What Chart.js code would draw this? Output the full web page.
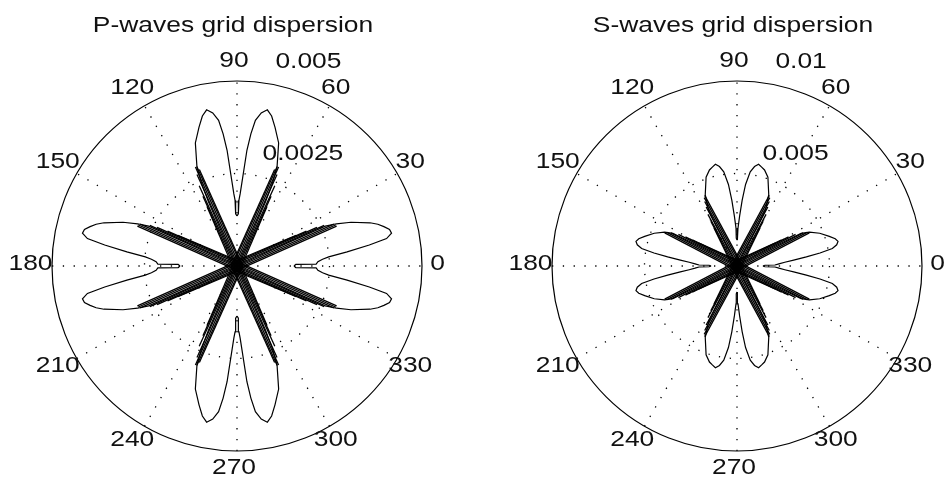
<!DOCTYPE html>
<html>
<head>
<meta charset="utf-8">
<script src="https://cdn.jsdelivr.net/npm/chart.js@4/dist/chart.umd.min.js"></script>
<style>
  body { margin: 0; background: #fff; }
  .panel { position: absolute; top: 0; width: 474px; height: 484px; }
</style>
</head>
<body>
<div class="panel" style="left:0"><canvas id="pChart"></canvas></div>
<div class="panel" style="left:474px"><canvas id="sChart"></canvas></div>
<script>
const titles = ['P-waves grid dispersion', 'S-waves grid dispersion'];
const angleTicks = [0, 30, 60, 90, 120, 150, 180, 210, 240, 270, 300, 330];

const pRingTicks = [0.0025, 0.005];
const pRingLabels = ['0.0025', '0.005'];
const sRingTicks = [0.005, 0.01];
const sRingLabels = ['0.005', '0.01'];

// outer dispersion curve, first quadrant (angle in deg, radius), mirrored to the other quadrants
const pCurveDeg = [0, 1.5, 1.4, 3, 4.5, 5.7, 7.3, 9, 10.4, 12, 13.5, 15, 16.5, 18, 21, 23, 24.3, 24.5, 24.6, 24.6,
                   65.5, 65.5, 66, 66.8, 68, 71.3, 74.7, 77, 79, 81, 82.8, 84, 85.1, 86.6, 87.5, 88.3, 88.5, 90];
const pCurveR = [0.00154, 0.00159, 0.00214, 0.00219, 0.00232, 0.00249, 0.0030, 0.00362, 0.00411, 0.00427, 0.00424, 0.00411, 0.00397, 0.00378, 0.0033, 0.00292, 0.00262, 0.00162, 0.00054, 0,
                 0, 0.00081, 0.00189, 0.00243, 0.00289, 0.00351, 0.00389, 0.00416, 0.0043, 0.00419, 0.00397, 0.00359, 0.00314, 0.00227, 0.00195, 0.00178, 0.00141, 0.00135];
// the other curves, which run in to the centre as thick bands (start and end of each, deg / radius)
const pBandStartDeg = [-66, -66, -66, 114, 114, 114, 114, -24, -24, -24, 156, 156, 156, 156];
const pBandStartR = [0.00011, 0.00007, 0.00003, 0.00003, 0.00007, 0.00011, 0.00014, 0.00011, 0.00007, 0.00003, 0.00003, 0.00007, 0.00011, 0.00014];
const pBandEndDeg = [21.8, 22.6, 23.4, 25.0, 25.8, 26.6, 27.3, 63.2, 64.0, 64.8, 66.4, 67.2, 68.0, 68.7];
const pBandEndR = [0.0029, 0.0029, 0.00285, 0.0026, 0.0024, 0.0021, 0.0018, 0.0018, 0.0021, 0.0024, 0.0027, 0.0029, 0.0029, 0.0028];

const sCurveDeg = [0, 1.5, 1.5, 3, 4.5, 6, 7.5, 8.9, 10.4, 12, 13.7, 15.5, 17.8, 21.6, 25, 27, 27.5, 27.7, 27.7,
                   62.3, 62.3, 62.5, 63, 66, 70.8, 74, 76, 78, 80, 82, 84, 85.5, 87, 88.5, 88.5, 90];
const sCurveR = [0.0014, 0.00151, 0.00205, 0.00227, 0.00259, 0.00308, 0.00378, 0.00454, 0.00524, 0.00551, 0.00562, 0.00551, 0.00524, 0.00481, 0.00432, 0.00389, 0.00243, 0.00081, 0,
                 0, 0.00081, 0.00243, 0.0034, 0.00422, 0.00508, 0.0054, 0.00551, 0.00562, 0.00546, 0.00514, 0.00443, 0.00357, 0.0027, 0.00205, 0.00151, 0.0014];
const sBandStartDeg = [-63, -63, -63, 117, 117, 117, 117, -27, -27, -27, 153, 153, 153, 153];
const sBandStartR = [0.00022, 0.00014, 0.00006, 0.00006, 0.00014, 0.00022, 0.00028, 0.00022, 0.00014, 0.00006, 0.00006, 0.00014, 0.00022, 0.00028];
const sBandEndDeg = [24.6, 25.6, 26.6, 28.4, 29.4, 30.4, 31.2, 58.8, 59.6, 60.6, 62.4, 63.4, 64.4, 65.4];
const sBandEndR = [0.0043, 0.0042, 0.0040, 0.0036, 0.0032, 0.0028, 0.0024, 0.0024, 0.0028, 0.0032, 0.0036, 0.0039, 0.0041, 0.0042];

const FONT = '22px "Liberation Sans", Arial, sans-serif';
const STRETCH = 1.2;

function toXY(deg, r, sx, sy) {
  return { x: sx * r * Math.cos(deg * Math.PI / 180), y: sy * r * Math.sin(deg * Math.PI / 180) };
}

function quadrants(deg, r) {
  const signs = [[1, 1], [-1, 1], [-1, -1], [1, -1]];
  return signs.map(([sx, sy]) => deg.map((d, i) => toXY(d, r[i], sx, sy)));
}

function lineSet(pts, w) {
  return { data: pts, showLine: true, borderColor: '#000', borderWidth: w,
           pointRadius: 0, pointHoverRadius: 0, fill: false, tension: 0 };
}

function makeDatasets(curveDeg, curveR, bStartDeg, bStartR, bEndDeg, bEndR) {
  let sets = [];
  quadrants(curveDeg, curveR).forEach(pts => sets.push(lineSet(pts, 1.2)));
  bEndDeg.forEach((d, i) => {
    quadrants([bStartDeg[i], d], [bStartR[i], bEndR[i]]).forEach(pts => sets.push(lineSet(pts, 1.3)));
  });
  return sets;
}

function stretchText(ctx, txt, x, y, align) {
  let w = ctx.measureText(txt).width * STRETCH;
  let x0 = align == 'center' ? x - w / 2 : x;
  ctx.save();
  ctx.translate(x0, y);
  ctx.scale(STRETCH, 1);
  ctx.textAlign = 'left';
  ctx.fillText(txt, 0, 0);
  ctx.restore();
}

const polarGrid = {
  id: 'polarGrid',
  beforeDatasetsDraw(chart, args, opts) {
    const { ctx, scales: { x, y } } = chart;
    const cx = x.getPixelForValue(0), cy = y.getPixelForValue(0);
    const R = x.getPixelForValue(opts.rMax) - cx;
    ctx.save();
    ctx.strokeStyle = '#000';
    ctx.lineWidth = 1.3;
    ctx.setLineDash([1.3, 9.5]);
    // spokes every 30 deg
    for (let a = 0; a < 180; a += 30) {
      let c = Math.cos(a * Math.PI / 180), s = Math.sin(a * Math.PI / 180);
      ctx.beginPath();
      ctx.moveTo(cx - R * c, cy + R * s);
      ctx.lineTo(cx + R * c, cy - R * s);
      ctx.stroke();
    }
    // inner dotted ring
    opts.rings.slice(0, -1).forEach(v => {
      let r = x.getPixelForValue(v) - cx;
      ctx.beginPath();
      ctx.arc(cx, cy, r, 0, Math.PI * 2);
      ctx.stroke();
    });
    ctx.setLineDash([]);
    ctx.lineWidth = 1.2;
    ctx.beginPath();
    ctx.arc(cx, cy, R, 0, Math.PI * 2);
    ctx.stroke();
    ctx.restore();
  },
  afterDraw(chart, args, opts) {
    const { ctx, scales: { x, y } } = chart;
    const cx = x.getPixelForValue(0), cy = y.getPixelForValue(0);
    const R = x.getPixelForValue(opts.rMax) - cx;
    ctx.save();
    ctx.fillStyle = '#111';
    ctx.font = FONT;
    ctx.textBaseline = 'alphabetic';
    stretchText(ctx, opts.title, cx - 4, 32, 'center');
    ctx.textBaseline = 'middle';
    angleTicks.forEach(a => {
      let rad = a * Math.PI / 180;
      stretchText(ctx, String(a), cx + 1.1 * R * Math.cos(rad) - 3, cy - 1.1 * R * Math.sin(rad) - 2, 'center');
    });
    ctx.textBaseline = 'alphabetic';
    const rinc = opts.rings[0];
    const a82 = 82 * Math.PI / 180;
    opts.rings.forEach((v, i) => {
      let r = x.getPixelForValue(v + rinc / 20) - cx;
      stretchText(ctx, opts.ringLabels[i], cx + r * Math.cos(a82) + 12, cy - r * Math.sin(a82) - 10, 'left');
    });
    ctx.restore();
  }
};

function drawPolar(id, title, rMax, rings, ringLabels, datasets, padLeft, padRight) {
  new Chart(document.getElementById(id), {
    type: 'scatter',
    data: { datasets: datasets },
    options: {
      responsive: true,
      maintainAspectRatio: false,
      animation: false,
      events: [],
      layout: { padding: { left: padLeft, right: padRight, top: 81, bottom: 33 } },
      scales: {
        x: { type: 'linear', min: -rMax, max: rMax, display: false },
        y: { type: 'linear', min: -rMax, max: rMax, display: false }
      },
      plugins: {
        legend: { display: false },
        tooltip: { enabled: false },
        polarGrid: { rMax: rMax, rings: rings, ringLabels: ringLabels, title: title }
      }
    },
    plugins: [polarGrid]
  });
}

drawPolar('pChart', titles[0], 0.005, pRingTicks, pRingLabels,
  makeDatasets(pCurveDeg, pCurveR, pBandStartDeg, pBandStartR, pBandEndDeg, pBandEndR), 52, 52);
drawPolar('sChart', titles[1], 0.01, sRingTicks, sRingLabels,
  makeDatasets(sCurveDeg, sCurveR, sBandStartDeg, sBandStartR, sBandEndDeg, sBandEndR), 78, 26);
</script>
</body>
</html>
